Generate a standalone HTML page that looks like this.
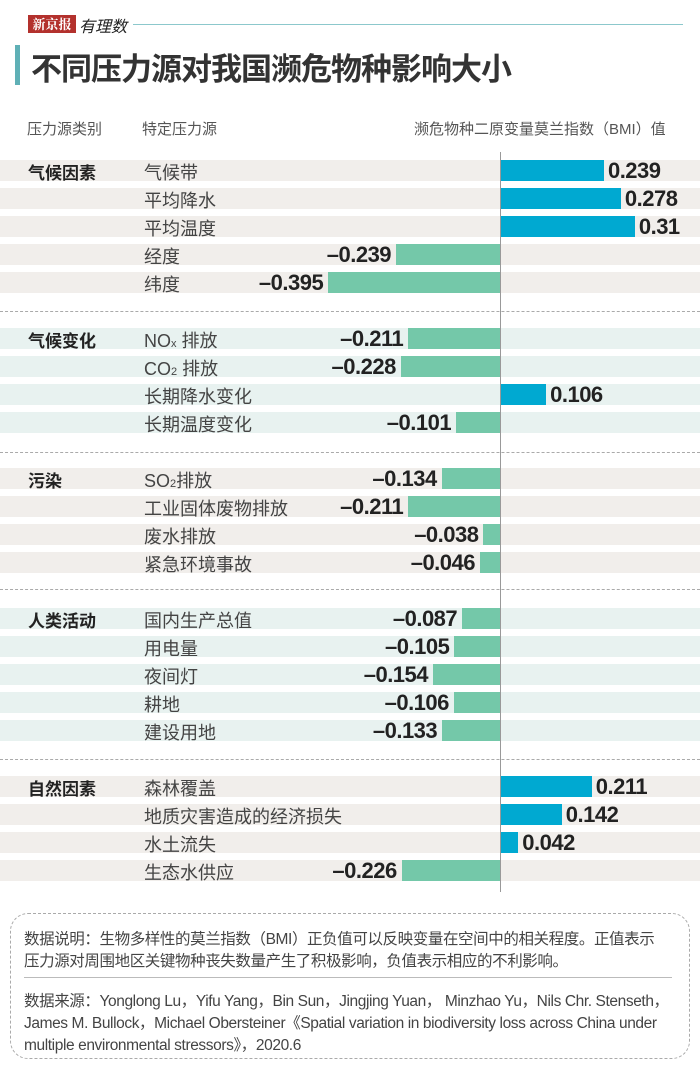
<!DOCTYPE html>
<html><head><meta charset="utf-8"><style>
body{margin:0;width:700px;height:1087px;background:#fff;position:relative;overflow:hidden;font-family:"Liberation Sans","Noto Sans CJK SC",sans-serif;color:#333}
.a{position:absolute;white-space:nowrap}
.band{position:absolute;left:0;width:700px;height:21px;z-index:0}
.cat{position:absolute;left:28px;font-weight:bold;font-size:17px;color:#222;z-index:2}
.nm{position:absolute;left:144px;font-size:18px;color:#444;z-index:2}
.v{position:absolute;font-family:"Liberation Sans Narrow","Liberation Sans",sans-serif;font-weight:bold;font-size:22px;color:#222;letter-spacing:-0.5px;z-index:2}
.bar{position:absolute;height:21px;z-index:1}
.dash{position:absolute;left:0;width:700px;border-top:1px dashed #aaa}
.fn{position:absolute;left:24px;font-size:15.5px;color:#444;letter-spacing:-0.4px}
</style></head><body>
<div class="a" style="left:28px;top:15px;width:48px;height:18px;background:#b3312d;color:#fff;font-size:13px;font-weight:bold;text-align:center;line-height:18px;font-family:'Noto Serif CJK SC',serif">新京报</div>
<div class="a" style="left:79px;top:13px;font-size:16px;font-style:italic;color:#222">有理数</div>
<div class="a" style="left:133px;top:24px;width:550px;height:1px;background:#8cc8cc"></div>
<div class="a" style="left:15px;top:45px;width:5px;height:40px;background:#5fb0b6"></div>
<div class="a" style="left:31px;top:44px;font-size:31px;font-weight:bold;color:#333;letter-spacing:-1px">不同压力源对我国濒危物种影响大小</div>
<div class="a" style="left:27px;top:118px;font-size:15px;color:#555">压力源类别</div>
<div class="a" style="left:142px;top:118px;font-size:15px;color:#555">特定压力源</div>
<div class="a" style="left:414px;top:118px;font-size:15px;color:#555">濒危物种二原变量莫兰指数（BMI）值</div>
<div id="rows"></div>
<div class="a" style="left:500px;top:152px;width:1px;height:740px;background:#999;z-index:3"></div>
<div class="a" style="left:10px;top:913px;width:678px;height:144px;border:1px dashed #aaa;border-radius:18px"></div>
<div class="fn" style="top:927px">数据说明：生物多样性的莫兰指数（BMI）正负值可以反映变量在空间中的相关程度。正值表示</div>
<div class="fn" style="top:949px">压力源对周围地区关键物种丧失数量产生了积极影响，负值表示相应的不利影响。</div>
<div class="a" style="left:24px;top:977px;width:648px;height:1px;background:#bbb"></div>
<div class="fn" style="top:989px">数据来源：Yonglong Lu，Yifu Yang，Bin Sun，Jingjing Yuan，&nbsp;Minzhao Yu，Nils Chr. Stenseth，</div>
<div class="fn" style="top:1011px">James M. Bullock，Michael Obersteiner《Spatial variation in biodiversity loss across China under</div>
<div class="fn" style="top:1033px">multiple environmental stressors》，2020.6</div>
<script>
var S=[
["气候因素","#f1eeeb",160,[["气候带",.239],["平均降水",.278],["平均温度",.31],["经度",-.239],["纬度",-.395]]],
["气候变化","#e8f2f0",328,[["NO<span style='font-size:11px'>x</span> 排放",-.211],["CO<span style='font-size:11px'>2</span> 排放",-.228],["长期降水变化",.106],["长期温度变化",-.101]]],
["污染","#f1eeeb",468,[["SO<span style='font-size:11px'>2</span>排放",-.134],["工业固体废物排放",-.211],["废水排放",-.038],["紧急环境事故",-.046]]],
["人类活动","#e8f2f0",608,[["国内生产总值",-.087],["用电量",-.105],["夜间灯",-.154],["耕地",-.106],["建设用地",-.133]]],
["自然因素","#f1eeeb",776,[["森林覆盖",.211],["地质灾害造成的经济损失",.142],["水土流失",.042],["生态水供应",-.226]]]];
var h="",k=435,dl=[311,452,589,759];
S.forEach(function(s){var y=s[2];h+='<div class="cat" style="top:'+(y-1)+'px">'+s[0]+'</div>';
s[3].forEach(function(r,i){var t=y+i*28,v=r[1],w=Math.abs(v)*k;
h+='<div class="band" style="top:'+t+'px;background:'+s[1]+'"></div>';
h+='<div class="nm" style="top:'+(t-1)+'px">'+r[0]+'</div>';
var lab=(v<0?'–':'')+Math.abs(v).toString();
if(v>0){h+='<div class="bar" style="top:'+t+'px;left:500px;width:'+w+'px;background:#00a9d1"></div><div class="v" style="top:'+(t-2)+'px;left:'+(504+w)+'px">'+lab+'</div>';}
else{h+='<div class="bar" style="top:'+t+'px;left:'+(500-w)+'px;width:'+w+'px;background:#74c8a9"></div><div class="v" style="top:'+(t-2)+'px;right:'+(700-(500-w)+5)+'px">'+lab+'</div>';}
});});
dl.forEach(function(y){h+='<div class="dash" style="top:'+y+'px"></div>'});
document.getElementById('rows').innerHTML=h;
</script>
</body></html>
